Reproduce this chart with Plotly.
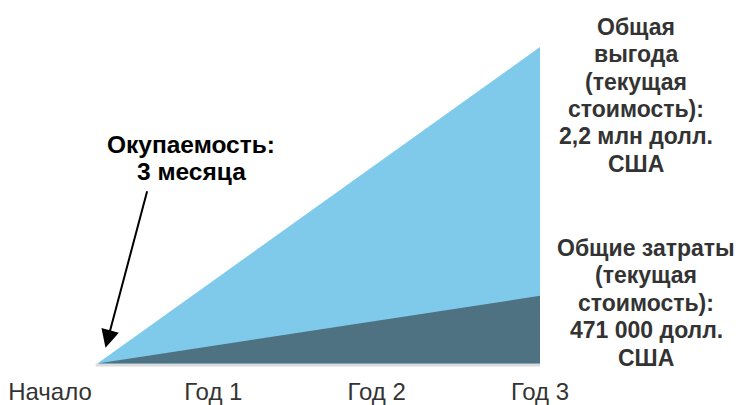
import plotly.graph_objects as go

# ---- data ----
tick_vals = [0, 1, 2, 3]
tick_text = ["Начало", "Год 1", "Год 2", "Год 3"]
payback_x = 0.29          # point where both areas start (approx. 3 months)
end_x = 3
benefit_total = 2.2       # млн долл. США
cost_total = 0.471        # млн долл. США

payback_label = ["Окупаемость:", "3 месяца"]
benefit_label = ["Общая", "выгода", "(текущая", "стоимость):", "2,2 млн долл.", "США"]
cost_label = ["Общие затраты", "(текущая", "стоимость):", "471 000 долл.", "США"]

# ---- layout geometry ----
W, H = 747, 405
MB = 35
PH = H - MB
FONT = "Liberation Sans, Arial, sans-serif"

fig = go.Figure()

# faint grey shadow under the areas
fig.add_trace(go.Scatter(
    x=[payback_x - 0.01, end_x], y=[-0.01, -0.01], mode="lines",
    line=dict(color="#dcdcdc", width=3), hoverinfo="skip", showlegend=False))

fig.add_trace(go.Scatter(
    x=[payback_x, end_x, end_x, payback_x], y=[0, benefit_total, 0, 0],
    mode="lines", fill="toself", fillcolor="#7fcaeb",
    line=dict(width=0, color="#7fcaeb"), hoverinfo="skip", showlegend=False))

fig.add_trace(go.Scatter(
    x=[payback_x, end_x, end_x, payback_x], y=[0, cost_total, 0, 0],
    mode="lines", fill="toself", fillcolor="#4e7282",
    line=dict(width=0, color="#4e7282"), hoverinfo="skip", showlegend=False))

annotations = []

def add_lines(lines, cx, cy0, step, color, size):
    for i, t in enumerate(lines):
        annotations.append(dict(
            xref="paper", yref="paper", x=cx / W, y=(PH - (cy0 + i * step)) / PH,
            xanchor="center", yanchor="middle", showarrow=False,
            text="<b>" + t + "</b>", font=dict(family=FONT, size=size, color=color)))

add_lines(payback_label, 191, 146, 27, "#000000", 24.5)
add_lines(benefit_label, 636, 27, 27.6, "#333333", 23)
add_lines(cost_label, 646, 250, 27.7, "#333333", 23)

# arrow pointing at payback point
annotations.append(dict(
    x=payback_x + 0.05, y=0.11, xref="x", yref="y",
    ax=42, ay=-158, axref="pixel", ayref="pixel",
    showarrow=True, arrowhead=2, arrowsize=1.8, arrowwidth=2,
    arrowcolor="#000000", text=""))

px_per_year = (540 - 50) / 3
x0 = -50 / px_per_year
x1 = 3 + (W - 540) / px_per_year
px_per_unit = 145
y0 = -(PH - 366.5) / px_per_unit
y1 = 366.5 / px_per_unit

fig.update_layout(
    width=W, height=H,
    margin=dict(l=0, r=0, t=0, b=MB),
    paper_bgcolor="white", plot_bgcolor="white",
    annotations=annotations,
    xaxis=dict(range=[x0, x1], tickvals=tick_vals, ticktext=tick_text,
               showgrid=False, zeroline=False, showline=False,
               ticks="outside", ticklen=3, tickcolor="rgba(0,0,0,0)",
               tickfont=dict(family=FONT, size=24, color="#333333"),
               fixedrange=True),
    yaxis=dict(range=[y0, y1], visible=False, fixedrange=True),
)

fig.write_html("out.html")
